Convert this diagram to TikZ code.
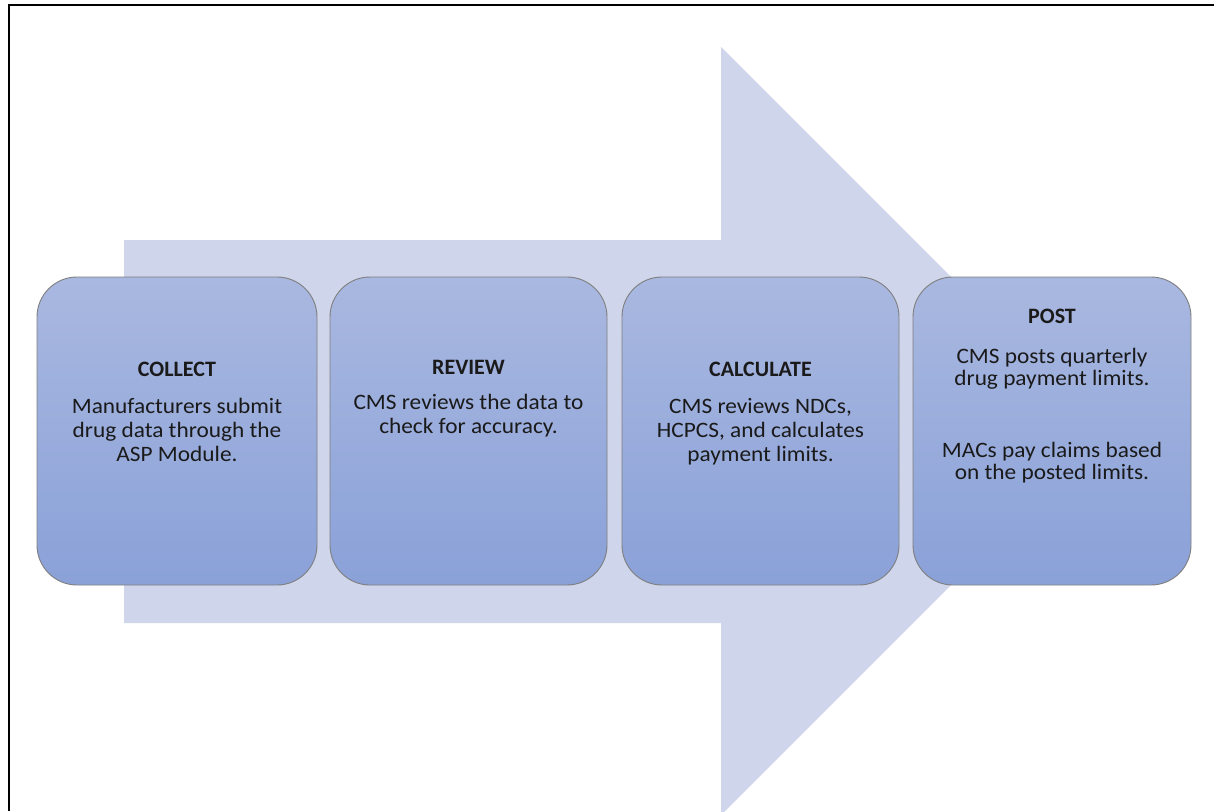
\documentclass[tikz,border=0pt]{standalone}
\usepackage{fontspec}
\setmainfont{Carlito}
\newfontfamily\bodyfont[FakeStretch=1.06]{Carlito}
\definecolor{arrowfill}{HTML}{CFD5EA}
\definecolor{boxtop}{HTML}{A9B8E0}
\definecolor{boxbot}{HTML}{8AA1D8}
\definecolor{boxline}{HTML}{7F7F7F}
\definecolor{txt}{HTML}{1A1A1A}
\tikzset{
  stepbox/.style={draw=boxline, line width=0.9pt, rounded corners=40pt,
    top color=boxtop, bottom color=boxbot},
  steptitle/.style={anchor=base, font=\fontsize{22}{23}\selectfont\bfseries, text=txt, inner sep=0pt},
  stepbody/.style={anchor=base, font=\bodyfont\fontsize{22}{23}\selectfont, text=txt, inner sep=0pt, align=center},
}
\begin{document}
\begin{tikzpicture}[x=1pt,y=-1pt]
\useasboundingbox (0,0) rectangle (1214,811);
\begin{scope}
\clip (0,0) rectangle (1214,811);
\fill[arrowfill] (124,240) -- (721,240) -- (721,47) -- (1105,431) -- (721,815) -- (721,623) -- (124,623) -- cycle;
\end{scope}
% frame (top and left edges)
\draw[line width=2pt, black] (9,811) -- (9,5) -- (1214,5);
% boxes
\path[stepbox] (37,277) rectangle (317,585) node[midway] (b1) {};
\path[stepbox] (330,277) rectangle (607,585) node[midway] (b2) {};
\path[stepbox] (622,277) rectangle (899,585) node[midway] (b3) {};
\path[stepbox] (913,277) rectangle (1191,585) node[midway] (b4) {};
% texts
\node[steptitle] (t1) at (177,376) {COLLECT};
\node[stepbody] (d1a) at (177,413.5) {Manufacturers submit};
\node[stepbody] (d1b) at (177,437.5) {drug data through the};
\node[stepbody] (d1c) at (177,461) {ASP Module.};
\node[steptitle] (t2) at (468.5,374) {REVIEW};
\node[stepbody] (d2a) at (468.5,409) {CMS reviews the data to};
\node[stepbody] (d2b) at (468.5,433) {check for accuracy.};
\node[steptitle] (t3) at (760.5,376) {CALCULATE};
\node[stepbody] (d3a) at (760.5,413.5) {CMS reviews NDCs,};
\node[stepbody] (d3b) at (760.5,437.5) {HCPCS, and calculates};
\node[stepbody] (d3c) at (760.5,461) {payment limits.};
\node[steptitle] (t4) at (1052,323) {POST};
\node[stepbody] (d4a) at (1052,363) {CMS posts quarterly};
\node[stepbody] (d4b) at (1052,385) {drug payment limits.};
\node[stepbody] (d4c) at (1052,457) {MACs pay claims based};
\node[stepbody] (d4d) at (1052,479) {on the posted limits.};
\end{tikzpicture}
\end{document}
